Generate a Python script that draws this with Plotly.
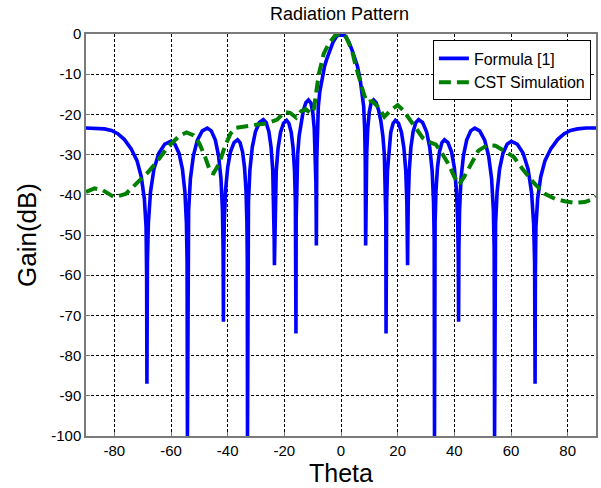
import plotly.graph_objects as go

# Formula [1] (blue)
theta_formula = [
    -90.0, -86.5, -83.5, -81.0, -78.8, -76.5, -74.1, -72.0, -70.5, -69.4, -68.8, -68.6, -68.5,
    -68.33, -67.99, -67.24, -66.02, -64.3, -62.2, -60.1, -58.63, -57.15, -55.97, -55.09, -54.55, -54.32, -54.2,
    -54.06, -53.78, -53.15, -52.1, -50.7, -48.95, -47.2, -45.78, -44.35, -43.21, -42.36, -41.84, -41.61, -41.5,
    -41.4, -41.2, -40.75, -40.0, -39.0, -37.75, -36.5, -35.63, -34.75, -34.05, -33.53, -33.21, -33.07, -33.0,
    -32.89, -32.66, -32.16, -31.32, -30.2, -28.8, -27.4, -26.43, -25.45, -24.67, -24.09, -23.73, -23.58, -23.5,
    -23.41, -23.24, -22.86, -22.21, -21.35, -20.3, -19.2, -18.4, -17.55, -16.9, -16.4, -16.1, -15.97, -15.9,
    -15.82, -15.65, -15.3, -14.8, -14.1, -13.3, -12.4, -11.5, -10.6, -9.95, -9.45, -9.08, -8.86, -8.76, -8.7,
    -8.55, -8.35, -8.0, -7.5, -6.8, -5.8, -5.0, -3.9, -2.8, -1.5,
    0.0,
    1.5, 2.8, 3.9, 5.0, 5.8, 6.8, 7.5, 8.0, 8.35, 8.55,
    8.7, 8.76, 8.86, 9.08, 9.45, 9.95, 10.6, 11.5, 12.4, 13.3, 14.1, 14.8, 15.3, 15.65, 15.82,
    15.9, 15.97, 16.1, 16.4, 16.9, 17.55, 18.4, 19.2, 20.3, 21.35, 22.21, 22.86, 23.24, 23.41,
    23.5, 23.58, 23.73, 24.09, 24.67, 25.45, 26.43, 27.4, 28.8, 30.2, 31.32, 32.16, 32.66, 32.89,
    33.0, 33.07, 33.21, 33.53, 34.05, 34.75, 35.63, 36.5, 37.75, 39.0, 40.0, 40.75, 41.2, 41.4,
    41.5, 41.61, 41.84, 42.36, 43.21, 44.35, 45.78, 47.2, 48.95, 50.7, 52.1, 53.15, 53.78, 54.06,
    54.2, 54.32, 54.55, 55.09, 55.97, 57.15, 58.63, 60.1, 62.2, 64.3, 66.02, 67.24, 67.99, 68.33,
    68.5, 68.6, 68.8, 69.4, 70.5, 72.0, 74.1, 76.5, 78.8, 81.0, 83.5, 86.5, 90.0,
]
gain_formula = [
    -23.4, -23.4, -23.6, -24.0, -24.8, -26.2, -28.5, -31.5, -35.5, -41.0, -48.0, -60.0, -87.0,
    -56.7, -47.2, -39.3, -33.6, -29.7, -27.4, -26.7, -27.4, -29.7, -33.6, -39.3, -47.2, -56.7, -100.0,
    -53.4, -43.9, -36.0, -30.3, -26.4, -24.1, -23.4, -24.1, -26.4, -30.3, -36.0, -43.9, -53.4, -71.6,
    -56.3, -46.8, -38.9, -33.2, -29.3, -27.0, -26.3, -27.0, -29.3, -33.2, -38.9, -46.8, -56.3, -100.0,
    -51.3, -41.8, -33.9, -28.2, -24.3, -22.0, -21.3, -22.0, -24.3, -28.2, -33.9, -41.8, -51.3, -57.5,
    -51.5, -42.0, -34.1, -28.4, -24.5, -22.2, -21.5, -22.2, -24.5, -28.4, -34.1, -42.0, -51.5, -74.5,
    -46.0, -37.0, -30.0, -25.5, -21.8, -19.0, -17.1, -16.4, -17.2, -19.6, -23.5, -29.5, -37.0, -45.0, -52.6,
    -31.0, -23.5, -18.0, -14.5, -11.5, -8.0, -6.2, -4.0, -2.0, -0.5,
    0.0,
    -0.5, -2.0, -4.0, -6.2, -8.0, -11.5, -14.5, -18.0, -23.5, -31.0,
    -52.6, -45.0, -37.0, -29.5, -23.5, -19.6, -17.2, -16.4, -17.1, -19.0, -21.8, -25.5, -30.0, -37.0, -46.0,
    -74.5, -51.5, -42.0, -34.1, -28.4, -24.5, -22.2, -21.5, -22.2, -24.5, -28.4, -34.1, -42.0, -51.5,
    -57.5, -51.3, -41.8, -33.9, -28.2, -24.3, -22.0, -21.3, -22.0, -24.3, -28.2, -33.9, -41.8, -51.3,
    -100.0, -56.3, -46.8, -38.9, -33.2, -29.3, -27.0, -26.3, -27.0, -29.3, -33.2, -38.9, -46.8, -56.3,
    -71.6, -53.4, -43.9, -36.0, -30.3, -26.4, -24.1, -23.4, -24.1, -26.4, -30.3, -36.0, -43.9, -53.4,
    -100.0, -56.7, -47.2, -39.3, -33.6, -29.7, -27.4, -26.7, -27.4, -29.7, -33.6, -39.3, -47.2, -56.7,
    -87.0, -60.0, -48.0, -41.0, -35.5, -31.5, -28.5, -26.2, -24.8, -24.0, -23.6, -23.4, -23.4,
]

# CST Simulation (green dashed)
theta_cst = [
    -90, -87, -84, -80, -76, -72, -68, -65, -61, -57, -54.5, -52, -50, -48, -46, -45, -43, -41,
    -39, -37, -34, -30, -26, -22.5, -20, -18, -15.8, -14, -12.5, -10.5, -9.5, -9.0, -7.8, -6.1,
    -4.3, -2.0, 0.3, 1.5, 3.9, 5.0, 6.2, 8.0, 9.1, 11.0, 13.2, 15.3, 17.5, 20.0, 22.0, 24.0,
    26.5, 28.8, 31.0, 33.5, 35.5, 37.8, 40.0, 41.7, 43.5, 46.0, 48.5, 51.5, 54.5, 57.5, 61.0,
    64.0, 68.0, 71.8, 75.5, 79.0, 82.5, 86.0, 88.5, 90.0,
]
gain_cst = [
    -39.3, -38.4, -38.9, -40.6, -39.8, -37.0, -34.3, -31.8, -28.0, -25.3, -24.5, -25.2, -27.2, -30.5,
    -34.5, -34.7, -32.2, -28.0, -24.8, -23.3, -23.0, -22.6, -22.2, -21.3, -19.4, -19.6, -20.8, -19.2,
    -18.7, -19.8, -18.5, -15.7, -9.9, -4.9, -2.4, -0.3, 0.0, -0.3, -4.1, -7.4, -10.7, -14.8, -16.9,
    -16.7, -18.2, -20.6, -19.0, -17.7, -19.0, -21.0, -23.8, -25.8, -26.8, -27.5, -29.5, -32.2, -35.5,
    -37.4, -35.5, -32.2, -29.0, -27.7, -27.8, -29.0, -30.6, -33.5, -37.0, -39.7, -41.0, -41.6, -42.0,
    -41.8, -41.2, -40.4,
]

x_ticks = [-80, -60, -40, -20, 0, 20, 40, 60, 80]
y_ticks = [0, -10, -20, -30, -40, -50, -60, -70, -80, -90, -100]

fig = go.Figure()
fig.add_trace(go.Scatter(
    x=theta_formula, y=gain_formula, mode="lines", name="Formula [1]",
    line=dict(color="#0000FF", width=3.6),
))
fig.add_trace(go.Scatter(
    x=theta_cst, y=gain_cst, mode="lines", name="CST Simulation",
    line=dict(color="#008000", width=4, dash="12px,6px"),
))

font_main = "Arial, Liberation Sans, sans-serif"
axis_common = dict(
    showline=True, mirror=True, linecolor="#7a7a7a", linewidth=1.5,
    showgrid=True, gridcolor="black", gridwidth=1, griddash="3px,2px",
    zeroline=False, ticks="inside", ticklen=4, tickcolor="#7a7a7a",
    tickfont=dict(family=font_main, size=15, color="black"),
)

fig.update_layout(
    width=601, height=488,
    margin=dict(l=86, r=3, t=34, b=52),
    paper_bgcolor="white", plot_bgcolor="white",
    title=dict(text="Radiation Pattern", x=0.565, xanchor="center", y=0.972, yanchor="middle",
               font=dict(family=font_main, size=18, color="black")),
    xaxis=dict(range=[-90, 90], tickvals=x_ticks, ticktext=[str(v) for v in x_ticks],
               title=dict(text="Theta", font=dict(family=font_main, size=25, color="black"), standoff=6),
               **axis_common),
    yaxis=dict(range=[-100, 0], tickvals=y_ticks, ticktext=[str(v) for v in y_ticks],
               title=dict(text="Gain(dB)", font=dict(family=font_main, size=26, color="black"), standoff=7),
               **axis_common),
    legend=dict(x=0.99, y=0.984, xanchor="right", yanchor="top",
                bgcolor="white", bordercolor="black", borderwidth=1,
                font=dict(family=font_main, size=16, color="black"),
                itemwidth=30, tracegroupgap=0),
    showlegend=True,
)

fig.write_html("out.html", config={"displayModeBar": False},
               post_script="document.body.style.margin='0px';")
